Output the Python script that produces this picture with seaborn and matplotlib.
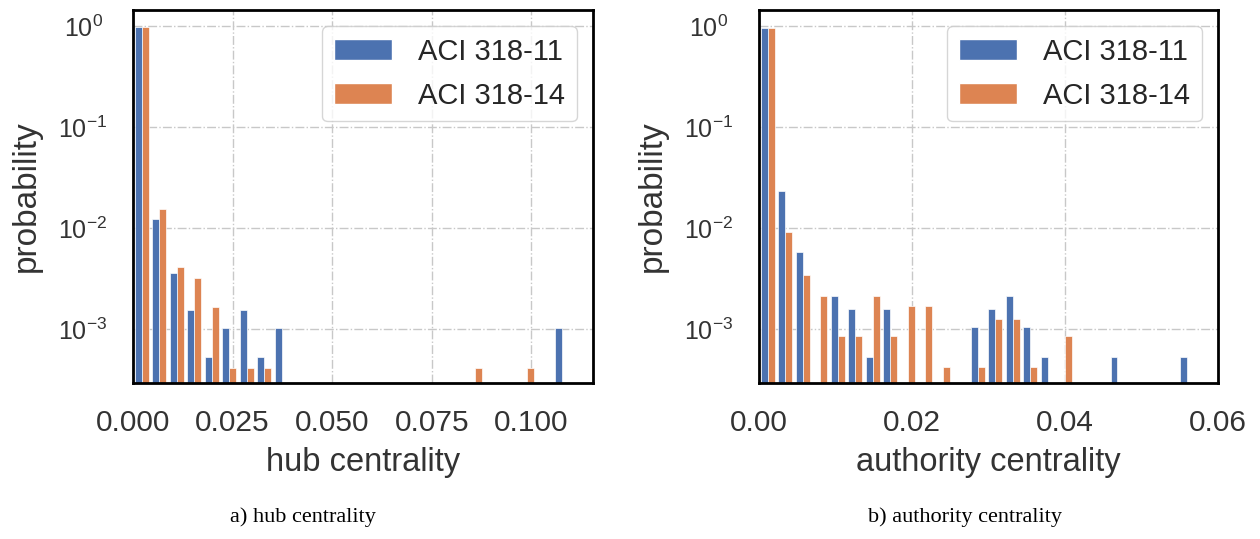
import numpy as np
import pandas as pd
import seaborn as sns
import matplotlib.pyplot as plt

# series names
series = ["ACI 318-11", "ACI 318-14"]

# hub centrality histogram: 25 bins from 0 to 0.11, probability per bin
hub_max = 0.11
hub_bins = 25
hub_aci11 = [0.975, 0.0123, 0.0036, 0.00155, 0.00052, 0.00103, 0.00155, 0.00052, 0.00103,
             0, 0, 0, 0, 0, 0, 0, 0, 0, 0, 0, 0, 0, 0, 0, 0.00103]
hub_aci14 = [0.973, 0.0154, 0.0041, 0.0032, 0.00164, 0.00041, 0.00041, 0.00041, 0,
             0, 0, 0, 0, 0, 0, 0, 0, 0, 0, 0.00041, 0, 0, 0.00041, 0, 0]

# authority centrality histogram: 25 bins from 0 to 0.0572
auth_max = 0.0572
auth_bins = 25
auth_aci11 = [0.958, 0.023, 0.0058, 0, 0.0021, 0.00158, 0.00053, 0.00158, 0,
              0, 0, 0, 0.00105, 0.00158, 0.0021, 0.00105, 0.00053, 0, 0, 0,
              0.00053, 0, 0, 0, 0.00053]
auth_aci14 = [0.9727, 0.0092, 0.0034, 0.0021, 0.00085, 0.00085, 0.0021, 0.00085, 0.00168,
              0.00168, 0.00042, 0, 0.00042, 0.00126, 0.00126, 0.00042, 0, 0.00084, 0, 0,
              0, 0, 0, 0, 0]

# axis texts
xlabels = ["hub centrality", "authority centrality"]
captions = ["a) hub centrality", "b) authority centrality"]
yticks = [1e-3, 1e-2, 1e-1, 1]


def to_frame(vmax, nbins, a, b):
    edges = np.linspace(0, vmax, nbins + 1)
    centers = (edges[:-1] + edges[1:]) / 2
    df = pd.DataFrame({
        "value": np.concatenate([centers, centers]),
        "prob": np.concatenate([a, b]),
        "series": [series[0]] * nbins + [series[1]] * nbins,
    })
    return df


sns.set_theme(style="white", palette="deep")
plt.rcParams["font.family"] = ["Liberation Sans", "DejaVu Sans"]
plt.rcParams["mathtext.fontset"] = "custom"
plt.rcParams["mathtext.rm"] = "Liberation Sans"
plt.rcParams["mathtext.it"] = "Liberation Sans:italic"
plt.rcParams["mathtext.bf"] = "Liberation Sans:bold"

fig = plt.figure(figsize=(12.6, 5.39), dpi=100)
ax1 = fig.add_axes([0.1056, 0.2894, 0.3650, 0.6920])
ax2 = fig.add_axes([0.6024, 0.2894, 0.3643, 0.6920])

datasets = [
    to_frame(hub_max, hub_bins, hub_aci11, hub_aci14),
    to_frame(auth_max, auth_bins, auth_aci11, auth_aci14),
]
maxes = [hub_max, auth_max]
nbins = [hub_bins, auth_bins]

for ax, df, vmax, nb, xl in zip([ax1, ax2], datasets, maxes, nbins, xlabels):
    sns.histplot(data=df, x="value", weights="prob", hue="series", hue_order=series,
                 bins=nb, binrange=(0, vmax), multiple="dodge", shrink=0.8,
                 alpha=1, ax=ax)
    ax.set_yscale("log")
    ax.set_ylim(2.9e-4, 1.45)
    ax.set_xlim(0, vmax * 1.05)
    ax.set_yticks(yticks)
    ax.minorticks_off()
    ax.grid(True, linestyle="-.", color="#c8c8c8", linewidth=1)
    ax.set_axisbelow(True)
    for s in ax.spines.values():
        s.set_color("black")
        s.set_linewidth(2)
    ax.set_xlabel(xl, fontsize=23.5, color="#333333", labelpad=7)
    ax.set_ylabel("probability", fontsize=24, color="#333333")
    ax.yaxis.set_label_coords(-0.198, 0.5)
    ax.tick_params(axis="x", labelsize=21.5, colors="#333333", length=0, pad=19)
    ax.tick_params(axis="y", labelsize=18, colors="#333333", length=0, pad=36)
    sns.move_legend(ax, "upper right", title=None, fontsize=21, frameon=True,
                    handlelength=2.0, handletextpad=0.9, labelspacing=0.55,
                    borderaxespad=0.55)

ax1.set_xticks([0.0, 0.025, 0.05, 0.075, 0.1])
ax1.set_xticklabels(["0.000", "0.025", "0.050", "0.075", "0.100"])
ax2.set_xticks([0.0, 0.02, 0.04, 0.06])
ax2.set_xticklabels(["0.00", "0.02", "0.04", "0.06"])

# y tick labels sit centred in the reference
for ax in [ax1, ax2]:
    for lab in ax.get_yticklabels():
        lab.set_horizontalalignment("center")

fig.text(0.2405, 0.041, captions[0], ha="center", va="center",
         family="Liberation Serif", fontsize=16, color="black")
fig.text(0.766, 0.041, captions[1], ha="center", va="center",
         family="Liberation Serif", fontsize=16, color="black")

fig.savefig("out.png", dpi=100)
